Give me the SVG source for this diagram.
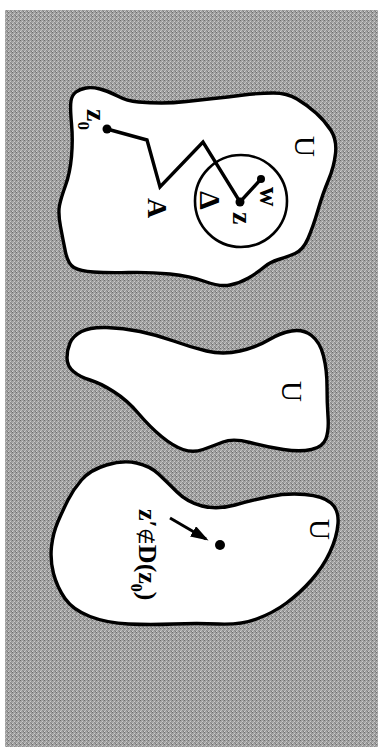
<svg xmlns="http://www.w3.org/2000/svg" width="378" height="747" viewBox="0 0 378 747">
<style>
.region{fill:#ffffff;stroke:#000;stroke-width:3.4;stroke-linejoin:round}
.line{fill:none;stroke:#000;stroke-width:3.4;stroke-linejoin:miter}
.dot{fill:#000}
.t{font-family:"Liberation Serif","Times New Roman",serif;fill:#000}
.b{font-weight:bold}
</style>
<defs>
<pattern id="grain" width="4" height="4" patternUnits="userSpaceOnUse">
<rect width="4" height="4" fill="#a2a2a2"/>
<rect x="0" y="0" width="1" height="1" fill="#6e6e6e"/>
<rect x="2" y="1" width="1" height="1" fill="#cacaca"/>
<rect x="1" y="2" width="1" height="1" fill="#bdbdbd"/>
<rect x="3" y="3" width="1" height="1" fill="#7a7a7a"/>
<rect x="2" y="2" width="1" height="1" fill="#8c8c8c"/>
<rect x="0" y="3" width="1" height="1" fill="#d0d0d0"/>
<rect x="3" y="1" width="1" height="1" fill="#959595"/>
</pattern>
<marker id="ah" markerWidth="6" markerHeight="4" refX="5" refY="2" orient="auto" markerUnits="strokeWidth">
<path d="M0,0 L6,2 L0,4 Z" fill="#000"/>
</marker>
</defs>
<rect width="378" height="747" fill="#ffffff"/>
<rect x="5" y="10" width="373" height="737" fill="url(#grain)"/>

<g id="region1">
<path class="region" d="M 76,92 Q 80,89 86,88 Q 92,87 100,89 Q 108,91 117.5,96 Q 127,101 138.5,102 Q 150,103 161.5,103 Q 173,103 186.5,101.5 Q 200,100 213.5,98.5 Q 227,97 243.5,95 Q 260,93 273.5,93 Q 287,93 297,99 Q 307,105 316,113 Q 325,121 331,130.5 Q 337,140 335.5,153.5 Q 334,167 328.5,180 Q 323,193 318,210 Q 313,227 308,238.5 Q 303,250 295,253.5 Q 287,257 278.5,259.5 Q 270,262 263.5,267.5 Q 257,273 248.5,278 Q 240,283 230,285 Q 220,287 205,281.5 Q 190,276 170,274 Q 150,272 128.5,272.5 Q 107,273 93.5,272 Q 80,271 74,267.5 Q 68,264 65.5,252 Q 63,240 60.5,226.5 Q 58,213 59.5,205.5 Q 61,198 65.5,185.5 Q 70,173 71.5,156.5 Q 73,140 71.5,123.5 Q 70,107 71,101 Q 72,95 76,92 Z"/>
<circle cx="241" cy="201" r="46" fill="none" stroke="#000" stroke-width="2.6"/>
<text class="t" font-size="29" transform="translate(295,136) rotate(90)">U</text>
<text class="t b" font-size="28" transform="translate(87,109) rotate(90)">z<tspan font-size="17" dy="9">0</tspan></text>
<text class="t b" font-size="28" transform="translate(148,198) rotate(90)">A</text>
<text class="t b" font-size="30" transform="translate(200,191) rotate(90)">Δ</text>
<text class="t b" font-size="27" transform="translate(260,187) rotate(90)">w</text>
<text class="t b" font-size="28" transform="translate(233,212) rotate(90)">z</text>
</g>

<g id="region2">
<path class="region" d="M 67,358 Q 67,350 70,343 Q 73,336 81.5,331.5 Q 90,327 106.5,327.5 Q 123,328 140,331.5 Q 157,335 173.5,341 Q 190,347 206.5,351 Q 223,355 240,351 Q 257,347 268.5,340 Q 280,333 291.5,331 Q 303,329 311.5,335.5 Q 320,342 323.5,356 Q 327,370 327,386.5 Q 327,403 328,416.5 Q 329,430 326,438.5 Q 323,447 311.5,449.5 Q 300,452 283.5,449.5 Q 267,447 250,442.5 Q 233,438 223,442 Q 213,446 203,449.5 Q 193,453 183,449.5 Q 173,446 161.5,436.5 Q 150,427 138.5,413.5 Q 127,400 113.5,391.5 Q 100,383 90,380 Q 80,377 73.5,371.5 Q 67,366 67,358 Z"/>
<text class="t" font-size="29" transform="translate(282,381) rotate(90)">U</text>
</g>

<g id="region3">
<path class="region" d="M 81.5,480 Q 90,470 106.5,465 Q 123,460 136.5,463 Q 150,466 158.5,474 Q 167,482 177,492 Q 187,502 202,506 Q 217,510 235,505 Q 253,500 270,496.5 Q 287,493 305,494.5 Q 323,496 331,503 Q 339,510 338,523.5 Q 337,537 330,552 Q 323,567 311.5,580 Q 300,593 286.5,603 Q 273,613 256.5,619 Q 240,625 218.5,624 Q 197,623 173.5,624 Q 150,625 128.5,624 Q 107,623 90,616.5 Q 73,610 65,598.5 Q 57,587 53.5,573.5 Q 50,560 51.5,546.5 Q 53,533 58,521.5 Q 63,510 68,500 Q 73,490 81.5,480 Z"/>
<text class="t" font-size="29" transform="translate(310,519) rotate(90)">U</text>
<text class="t b" font-size="26" transform="translate(139,509) rotate(90)">z′<tspan font-size="19" font-weight="normal">∉</tspan>D(z<tspan font-size="16" dy="8">0</tspan><tspan dy="-8">)</tspan></text>
</g>

<g id="connectors">
<polyline class="line" points="107,129 147,140 160,187 203,142 240,202 261,179"/>
<circle class="dot" cx="107" cy="129" r="4.5"/>
<circle class="dot" cx="240" cy="202" r="4.5"/>
<circle class="dot" cx="261" cy="179" r="4"/>
<line x1="170" y1="518" x2="206" y2="539" stroke="#000" stroke-width="3" marker-end="url(#ah)"/>
<circle class="dot" cx="220" cy="545" r="5"/>
</g>
</svg>
